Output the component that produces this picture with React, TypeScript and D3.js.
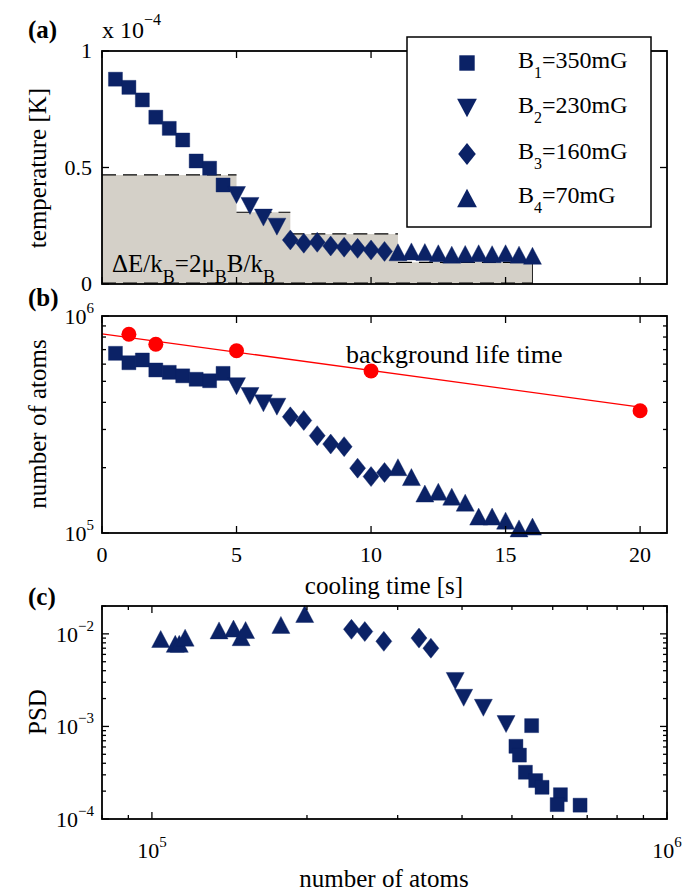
import * as d3 from 'd3';

// cooling time [s] for the four field stages
const T1 = [0.5, 1, 1.5, 2, 2.5, 3, 3.5, 4, 4.5];
const T2 = [5, 5.5, 6, 6.5];
const T3 = [7, 7.5, 8, 8.5, 9, 9.5, 10, 10.5];
const T4 = [11, 11.5, 12, 12.5, 13, 13.5, 14, 14.5, 15, 15.5, 16];

// temperature in units of 1e-4 K
const TEMP1 = [0.879, 0.844, 0.79, 0.716, 0.668, 0.618, 0.528, 0.497, 0.425];
const TEMP2 = [0.382, 0.335, 0.285, 0.246];
const TEMP3 = [0.189, 0.175, 0.179, 0.163, 0.158, 0.153, 0.146, 0.14];
const TEMP4 = [0.136, 0.14, 0.137, 0.132, 0.126, 0.129, 0.132, 0.128, 0.132, 0.126, 0.121];

// energy thresholds dE/kB (shaded steps)
const STEP_T0 = [0, 5, 7, 11];
const STEP_T1 = [5, 7, 11, 16];
const STEP_TEMP = [0.468, 0.308, 0.215, 0.093];

// number of atoms
const N1 = [6.73e5, 6.09e5, 6.27e5, 5.64e5, 5.5e5, 5.3e5, 5.11e5, 5.03e5, 5.44e5];
const N2 = [4.75e5, 4.28e5, 3.96e5, 3.82e5];
const N3 = [3.43e5, 3.3e5, 2.81e5, 2.57e5, 2.5e5, 1.99e5, 1.82e5, 1.9e5];
const N4 = [2.01e5, 1.81e5, 1.52e5, 1.55e5, 1.47e5, 1.38e5, 1.19e5, 1.19e5, 1.14e5, 1.05e5, 1.07e5];

// background life time measurement + exponential fit
const BG_T = [1, 2, 5, 10, 20];
const BG_N = [8.24e5, 7.41e5, 6.92e5, 5.58e5, 3.66e5];
const FIT_T = [0, 20];
const FIT_N = [8.28e5, 3.8e5];

// phase space density vs number of atoms
const C1_N = [5.46e5, 5.09e5, 5.17e5, 5.31e5, 5.56e5, 5.72e5, 6.21e5, 6.12e5, 6.78e5];
const C1_PSD = [1.02e-3, 6.1e-4, 4.9e-4, 3.2e-4, 2.6e-4, 2.2e-4, 1.83e-4, 1.43e-4, 1.41e-4];
const C2_N = [3.88e5, 4.03e5, 4.4e5, 4.87e5];
const C2_PSD = [3.1e-3, 2.04e-3, 1.59e-3, 1.06e-3];
const C3_N = [2.44e5, 2.59e5, 2.82e5, 3.3e5, 3.48e5];
const C3_PSD = [1.12e-2, 1.06e-2, 8.3e-3, 9.0e-3, 7.0e-3];
const C4_N = [1.04e5, 1.11e5, 1.13e5, 1.16e5, 1.35e5, 1.44e5, 1.49e5, 1.52e5, 1.78e5, 1.98e5];
const C4_PSD = [8.8e-3, 7.8e-3, 7.8e-3, 9.1e-3, 1.09e-2, 1.14e-2, 9.2e-3, 1.1e-2, 1.25e-2, 1.64e-2];

const LEGEND_SUB = ['1', '2', '3', '4'];
const LEGEND_VAL = ['=350mG', '=230mG', '=160mG', '=70mG'];
const TIME_TICKS = [0, 5, 10, 15, 20];
const TEMP_TICKS = [0, 0.5, 1];
const TEMP_TICK_LABELS = ['0', '0.5', '1'];

const W = 699, H = 893;
const L = 102, R = 667;
const A = { t: 51, b: 284 };
const B = { t: 316, b: 533 };
const C = { t: 606, b: 819 };

const FONT = '"Liberation Serif", "Times New Roman", serif';
const NAVY = '#0b2266';
const RED = '#ff0000';
const GRAY = '#d4d0c8';
const TICK_FS = 22;
const LABEL_FS = 25;

type Shape = 'square' | 'down' | 'diamond' | 'up';
const SHAPES: Shape[] = ['square', 'down', 'diamond', 'up'];

function markerPath(s: Shape) {
  switch (s) {
    case 'square': return 'M-7,-7h14v14h-14z';
    case 'down': return 'M0,8.5L9,-8.5L-9,-8.5Z';
    case 'up': return 'M0,-8.5L9,8.5L-9,8.5Z';
    default: return 'M0,-10L8,0L0,10L-8,0Z';
  }
}

function Markers({ xs, ys, shape }: { xs: number[]; ys: number[]; shape: Shape }) {
  const d = markerPath(shape);
  return (
    <g>
      {xs.map((x, i) => (
        <path key={i} d={d} transform={`translate(${x},${ys[i]})`} fill={NAVY} stroke={NAVY} strokeWidth={0.4} />
      ))}
    </g>
  );
}

// inward ticks on all four sides of a box
function Frame({ t, b, xt, yt }: { t: number; b: number; xt: { v: number; len: number }[]; yt: { v: number; len: number }[] }) {
  return (
    <g stroke="#000" strokeWidth={1.3} fill="none">
      {xt.map((k, i) => (
        <g key={'x' + i}>
          <line x1={k.v} x2={k.v} y1={b} y2={b - k.len} />
          <line x1={k.v} x2={k.v} y1={t} y2={t + k.len} />
        </g>
      ))}
      {yt.map((k, i) => (
        <g key={'y' + i}>
          <line x1={L} x2={L + k.len} y1={k.v} y2={k.v} />
          <line x1={R} x2={R - k.len} y1={k.v} y2={k.v} />
        </g>
      ))}
      <rect x={L} y={t} width={R - L} height={b - t} strokeWidth={1.8} />
    </g>
  );
}

const Pow = ({ x, y, exp, anchor = 'middle' }: { x: number; y: number; exp: string; anchor?: string }) => (
  <text x={x} y={y} textAnchor={anchor as any} fontSize={TICK_FS}>
    10<tspan dy={-11} fontSize={15}>{exp}</tspan>
  </text>
);

export default function App() {
  const xT = d3.scaleLinear().domain([0, 21]).range([L, R]);
  const yA = d3.scaleLinear().domain([0, 1]).range([A.b, A.t]);
  const yB = d3.scaleLog().domain([1e5, 1e6]).range([B.b, B.t]);
  const xC = d3.scaleLog().domain([8e4, 1e6]).range([L, R]);
  const yC = d3.scaleLog().domain([1e-4, 2e-2]).range([C.b, C.t]);

  const isMajor = (v: number) => Math.abs(Math.log10(v) - Math.round(Math.log10(v))) < 1e-6;
  const logTicks = (sc: d3.ScaleLogarithmic<number, number>) =>
    sc.ticks().map(v => ({ v: sc(v), len: isMajor(v) ? 7 : 4 }));

  const timeTicks = TIME_TICKS.map(v => ({ v: xT(v), len: 7 }));

  const TA = [T1, T2, T3, T4];
  const TEMPS = [TEMP1, TEMP2, TEMP3, TEMP4];
  const NS = [N1, N2, N3, N4];
  const CN = [C1_N, C2_N, C3_N, C4_N];
  const CP = [C1_PSD, C2_PSD, C3_PSD, C4_PSD];

  const fit = d3.line<number>().x((_, i) => xT(FIT_T[i])).y(v => yB(v));

  // shaded staircase of thresholds as one stepped area
  const stepX = [...STEP_T0, STEP_T1[STEP_T1.length - 1]];
  const stepY = [...STEP_TEMP, STEP_TEMP[STEP_TEMP.length - 1]];
  const stepArea = d3.area<number>()
    .x(v => xT(v)).y0(yA(0)).y1((_, i) => yA(stepY[i]))
    .curve(d3.curveStepAfter);

  const legRows = [63, 108, 154, 198];

  return (
    <svg width={W} height={H} viewBox={`0 0 ${W} ${H}`} style={{ position: 'absolute', left: 0, top: 0, background: '#fff' }}
      fontFamily={FONT} fill="#000">
      {/* ---------- (a) temperature ---------- */}
      <g>
        <path d={stepArea(stepX) ?? ''} fill={GRAY} />
        <g stroke="#000" strokeWidth={1.2} strokeDasharray="14 7" fill="none">
          {STEP_TEMP.map((v, i) => (
            <line key={i} x1={xT(STEP_T0[i])} x2={xT(STEP_T1[i])} y1={yA(v)} y2={yA(v)} />
          ))}
          <line x1={xT(0)} x2={xT(16)} y1={yA(0) - 1} y2={yA(0) - 1} />
        </g>
        <line x1={xT(16)} x2={xT(16)} y1={yA(STEP_TEMP[3])} y2={yA(0)} stroke="#222" strokeWidth={1} />
        {SHAPES.map((s, k) => (
          <Markers key={s} shape={s} xs={TA[k].map(v => xT(v))} ys={TEMPS[k].map(v => yA(v))} />
        ))}
        <text x={112} y={272} fontSize={25}>
          ΔE/k<tspan dy={11} fontSize={18}>B</tspan><tspan dy={-11}>=2μ</tspan><tspan dy={11} fontSize={18}>B</tspan>
          <tspan dy={-11}>B/k</tspan><tspan dy={11} fontSize={18}>B</tspan>
        </text>
        <Frame t={A.t} b={A.b} xt={timeTicks} yt={TEMP_TICKS.map(v => ({ v: yA(v), len: 7 }))} />
        {TEMP_TICKS.map((v, i) => (
          <text key={i} x={92} y={yA(v) + 7} textAnchor="end" fontSize={TICK_FS}>{TEMP_TICK_LABELS[i]}</text>
        ))}
        <text x={102} y={38} fontSize={24}>x 10<tspan dy={-13} fontSize={16}>−4</tspan></text>
        <text transform="translate(46,168) rotate(-90)" textAnchor="middle" fontSize={LABEL_FS}>temperature [K]</text>
        <text x={28} y={38} fontSize={25} fontWeight="bold">(a)</text>

        {/* legend */}
        <rect x={407} y={37} width={244} height={190} fill="#fff" stroke="#000" strokeWidth={1.5} />
        {SHAPES.map((s, k) => (
          <g key={s}>
            <path d={markerPath(s)} transform={`translate(467,${legRows[k]}) scale(1.1)`} fill={NAVY} />
            <text x={518} y={legRows[k] + 5} fontSize={24}>
              B<tspan dy={10} fontSize={16}>{LEGEND_SUB[k]}</tspan><tspan dy={-10}>{LEGEND_VAL[k]}</tspan>
            </text>
          </g>
        ))}
      </g>

      {/* ---------- (b) number of atoms ---------- */}
      <g>
        <path d={fit(FIT_N) ?? ''} fill="none" stroke={RED} strokeWidth={1.3} />
        {BG_T.map((t, i) => (
          <circle key={i} cx={xT(t)} cy={yB(BG_N[i])} r={7.5} fill={RED} />
        ))}
        {SHAPES.map((s, k) => (
          <Markers key={s} shape={s} xs={TA[k].map(v => xT(v))} ys={NS[k].map(v => yB(v))} />
        ))}
        <text x={346} y={363} fontSize={26}>background life time</text>
        <Frame t={B.t} b={B.b} xt={timeTicks} yt={logTicks(yB)} />
        <Pow x={94} y={yB(1e6) + 8} exp="6" anchor="end" />
        <Pow x={94} y={yB(1e5) + 8} exp="5" anchor="end" />
        {TIME_TICKS.map(v => (
          <text key={v} x={xT(v)} y={562} textAnchor="middle" fontSize={TICK_FS}>{v}</text>
        ))}
        <text x={384} y={594} textAnchor="middle" fontSize={LABEL_FS}>cooling time [s]</text>
        <text transform="translate(46,424) rotate(-90)" textAnchor="middle" fontSize={LABEL_FS}>number of atoms</text>
        <text x={28} y={306} fontSize={25} fontWeight="bold">(b)</text>
      </g>

      {/* ---------- (c) phase space density ---------- */}
      <g>
        {SHAPES.map((s, k) => (
          <Markers key={s} shape={s} xs={CN[k].map(v => xC(v))} ys={CP[k].map(v => yC(v))} />
        ))}
        <Frame t={C.t} b={C.b} xt={logTicks(xC)} yt={logTicks(yC)} />
        <Pow x={94} y={yC(1e-2) + 8} exp="−2" anchor="end" />
        <Pow x={94} y={yC(1e-3) + 8} exp="−3" anchor="end" />
        <Pow x={94} y={yC(1e-4) + 8} exp="−4" anchor="end" />
        <Pow x={xC(1e5)} y={858} exp="5" />
        <Pow x={xC(1e6)} y={858} exp="6" />
        <text x={384} y={887} textAnchor="middle" fontSize={LABEL_FS}>number of atoms</text>
        <text transform="translate(46,712) rotate(-90)" textAnchor="middle" fontSize={LABEL_FS}>PSD</text>
        <text x={28} y={605} fontSize={25} fontWeight="bold">(c)</text>
      </g>
    </svg>
  );
}
